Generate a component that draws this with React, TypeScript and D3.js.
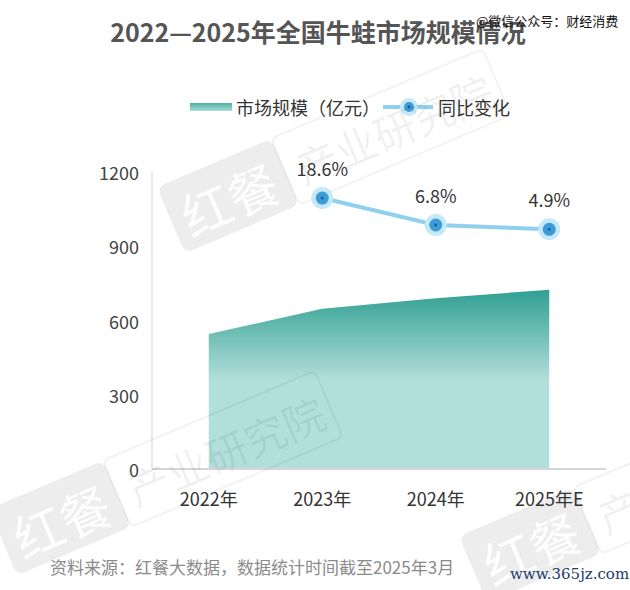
import React from "react";
import * as d3 from "d3";

const categories = ["2022年", "2023年", "2024年", "2025年E"];
const marketSize = [545, 647, 690, 724];
const growthRate: (number | null)[] = [null, 18.6, 6.8, 4.9];
const growthLabels = ["", "18.6%", "6.8%", "4.9%"];
const yTicks = [0, 300, 600, 900, 1200];
const title = "2022—2025年全国牛蛙市场规模情况";
const legendArea = "市场规模（亿元）";
const legendLine = "同比变化";
const sourceText = "资料来源：红餐大数据，数据统计时间截至2025年3月";

const W = 630;
const H = 590;
const FONT = "'Noto Sans CJK SC', 'Noto Sans', sans-serif";

const watermarks = [
  { cx: 228, cy: 196 },
  { cx: 60, cy: 518 },
  { cx: 530, cy: 545 },
];

export default function App() {
  const x = d3.scaleBand<string>().domain(categories).range([152, 606]);
  const cx = (c: string) => (x(c) as number) + x.bandwidth() / 2;
  const y = d3.scaleLinear().domain([0, 1200]).range([469, 172]);
  const y2 = d3.scaleLinear().domain([-100, 30]).range([469, 172]);

  const areaData = categories.map((c, i) => ({ c, v: marketSize[i] }));
  const areaPath = d3
    .area<{ c: string; v: number }>()
    .x((d) => cx(d.c))
    .y0(y(0))
    .y1((d) => y(d.v))(areaData) as string;

  const lineData = categories
    .map((c, i) => ({ c, v: growthRate[i], label: growthLabels[i] }))
    .filter((d) => d.v !== null) as { c: string; v: number; label: string }[];
  const linePath = d3
    .line<{ c: string; v: number }>()
    .x((d) => cx(d.c))
    .y((d) => y2(d.v))(lineData) as string;

  return (
    <svg
      width={W}
      height={H}
      style={{ position: "fixed", left: 0, top: 0, background: "#fff" }}
      fontFamily={FONT}
    >
      <defs>
        <linearGradient id="areaGrad" gradientUnits="userSpaceOnUse" x1="0" y1={y(724)} x2="0" y2={380}>
          <stop offset="0" stopColor="#30a091" />
          <stop offset="1" stopColor="#b2dedb" />
        </linearGradient>
        <linearGradient id="legendGrad" x1="0" y1="0" x2="0" y2="1">
          <stop offset="0" stopColor="#4fb0a4" />
          <stop offset="1" stopColor="#a9dcd6" />
        </linearGradient>
      </defs>
      <rect width={W} height={H} fill="#fff" />

      {/* title */}
      <text x={318} y={31} textAnchor="middle" dominantBaseline="central" fontSize={25} fontWeight="bold" fill="#555">
        {title}
      </text>
      <text x={476} y={20} fontSize={13} fill="#111" dominantBaseline="central">
        @微信公众号：财经消费
      </text>

      {/* legend */}
      <rect x={190} y={103} width={42} height={8} fill="url(#legendGrad)" />
      <text x={236} y={107} fontSize={18} fill="#333" dominantBaseline="central">
        {legendArea}
      </text>
      <line x1={383} x2={433} y1={107} y2={107} stroke="#8fd0ee" strokeWidth={4} />
      <circle cx={409} cy={107} r={9} fill="#c6e9f8" />
      <circle cx={409} cy={107} r={5} fill="#3d9bd6" />
      <circle cx={409} cy={107} r={1.4} fill="#15609f" />
      <text x={438} y={107} fontSize={18} fill="#333" dominantBaseline="central">
        {legendLine}
      </text>

      {/* axes */}
      <line x1={152} x2={152} y1={172} y2={469} stroke="#e2e2e2" strokeWidth={1.5} />
      {yTicks.map((t) => (
        <text key={t} x={139} y={y(t)} textAnchor="end" dominantBaseline="central" fontSize={18} fill="#444">
          {t}
        </text>
      ))}

      {/* area */}
      <path d={areaPath} fill="url(#areaGrad)" />
      <line x1={152} x2={606} y1={469} y2={469} stroke="#d6d6d6" strokeWidth={2} />

      {/* watermarks */}
      {watermarks.map((w, i) => (
        <g key={i} transform={`translate(${w.cx},${w.cy}) rotate(-23)`}>
          <rect x={-62} y={-36} width={124} height={72} rx={8} fill="#000" fillOpacity={0.07} />
          <text x={0} y={2} textAnchor="middle" dominantBaseline="central" fontSize={50} fill="#fff" fillOpacity={0.9}>
            红餐
          </text>
          <rect x={62} y={-36} width={230} height={72} rx={6} fill="none" stroke="#000" strokeOpacity={0.05} strokeWidth={2} />
          <text x={74} y={2} dominantBaseline="central" fontSize={42} fill="#000" fillOpacity={0.06}>
            产业研究院
          </text>
        </g>
      ))}

      {categories.map((c) => (
        <text key={c} x={cx(c)} y={498} textAnchor="middle" dominantBaseline="central" fontSize={18} fill="#333">
          {c}
        </text>
      ))}

      {/* growth line */}
      <path d={linePath} fill="none" stroke="#8fd0ee" strokeWidth={4} />
      {lineData.map((d) => (
        <g key={d.c}>
          <circle cx={cx(d.c)} cy={y2(d.v)} r={11} fill="#c6e9f8" />
          <circle cx={cx(d.c)} cy={y2(d.v)} r={6.5} fill="#3d9bd6" />
          <circle cx={cx(d.c)} cy={y2(d.v)} r={1.5} fill="#15609f" />
          <text x={cx(d.c)} y={y2(d.v) - 30} textAnchor="middle" dominantBaseline="central" fontSize={18} fill="#333">
            {d.label}
          </text>
        </g>
      ))}

      {/* source */}
      <text x={50} y={566} fontSize={17} fill="#8a8a8a" dominantBaseline="central">
        {sourceText}
      </text>
      <text x={510} y={574} fontSize={15} fill="#1b3a6b" fontFamily="'DejaVu Serif', 'Liberation Serif', serif" dominantBaseline="central">
        www.365jz.com
      </text>
    </svg>
  );
}
